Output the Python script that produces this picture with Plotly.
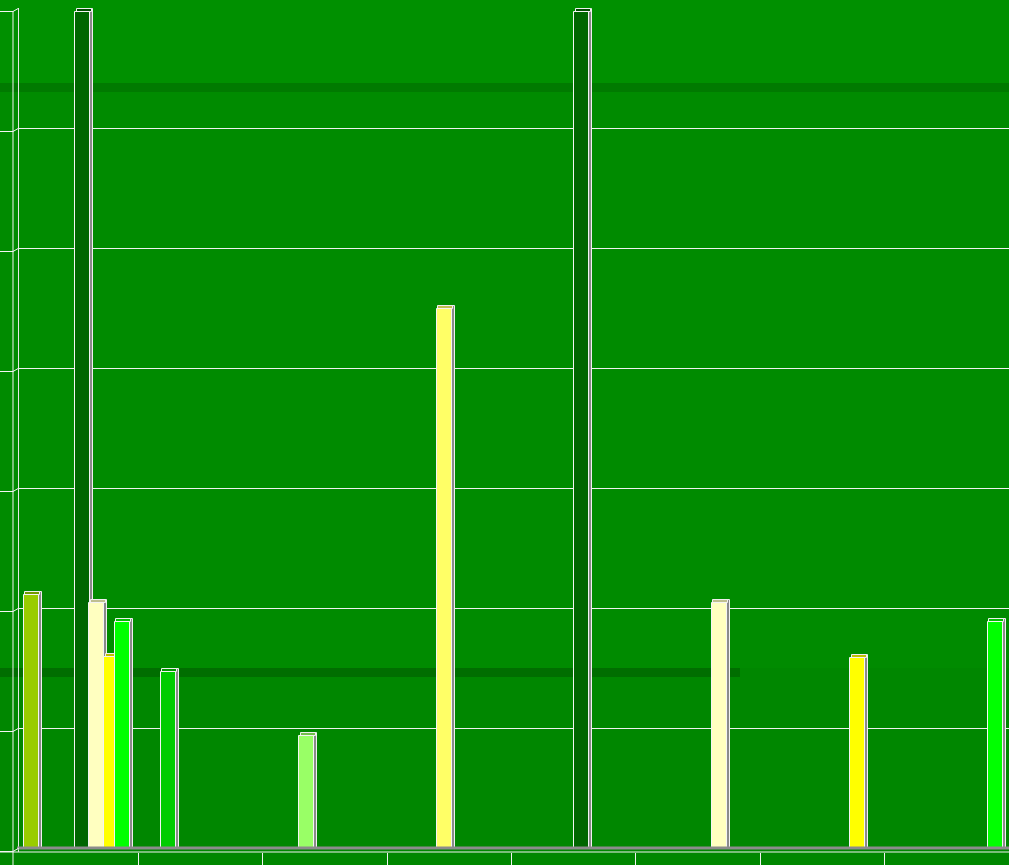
import plotly.graph_objects as go

# ---- data ----
bar_pos = [0.137, 0.551, 0.667, 0.784, 0.872, 1.242, 2.352, 3.461, 4.563, 5.672, 6.782, 7.891]
bar_val = [2.11, 6.97, 2.04, 1.59, 1.88, 1.47, 0.93, 4.49, 6.97, 2.04, 1.58, 1.88]
bar_col = ["#99cc00", "#006600", "#ffffc0", "#ffff00", "#00ff00", "#00cc00",
           "#99ff66", "#ffff66", "#006600", "#ffffc0", "#ffff00", "#00ff00"]
x_ticks = [0, 1, 2, 3, 4, 5, 6, 7, 8]
y_ticks = [0, 1, 2, 3, 4, 5, 6, 7]

W, H = 1009, 865
ML, MR, MT, MB = 19, 0, 8, 13
PW = W - ML - MR
PH = H - MT - MB
ux = 124.375                      # px per x unit (x=0 sits at pixel 14)
XR = [(ML - 14) / ux, (W - 14) / ux]
YR = [-4 / 120, 7]
uy = PH / (YR[1] - YR[0])         # px per y unit

BW = 15 / ux
DX = 3 / ux
DY = 3 / uy
WHITE = "#f4f4f4"


def darken(hexc, f=0.75):
    h = hexc.lstrip("#")
    r, g, b = (int(h[i:i + 2], 16) for i in (0, 2, 4))
    return "rgb(%d,%d,%d)" % (r * f, g * f, b * f)


def px(X):
    return (X - ML) / PW


def py(Y):
    return (H - MB - Y) / PH


fig = go.Figure()
for x, v, c in zip(bar_pos, bar_val, bar_col):
    # side / shadow face
    fig.add_trace(go.Bar(x=[x + DX], y=[v + DY], width=[BW], base=[0],
                         marker=dict(color="#8a8a8a", line=dict(color="#f0f0f0", width=1)),
                         hoverinfo="skip", showlegend=False))
    # top face
    fig.add_trace(go.Bar(x=[x + DX / 2], y=[DY], base=[v], width=[BW],
                         marker=dict(color=darken(c), line=dict(color="#f0f0f0", width=1)),
                         hoverinfo="skip", showlegend=False))
    # front face
    fig.add_trace(go.Bar(x=[x], y=[v], width=[BW],
                         marker=dict(color=c, line=dict(color=WHITE, width=1)),
                         showlegend=False))

shapes = [
    dict(type="rect", xref="paper", yref="paper", x0=px(-20), x1=px(W + 20), y0=py(92), y1=py(83),
         fillcolor="#007a00", line=dict(width=0), layer="below"),
    dict(type="rect", xref="paper", yref="paper", x0=px(-20), x1=px(W + 20), y0=py(668), y1=py(92),
         fillcolor="#008b00", line=dict(width=0), layer="below"),
    dict(type="rect", xref="paper", yref="paper", x0=px(-20), x1=px(W + 20), y0=py(H + 20), y1=py(668),
         fillcolor="#008700", line=dict(width=0), layer="below"),
    dict(type="rect", xref="paper", yref="paper", x0=px(-20), x1=px(740), y0=py(677), y1=py(668),
         fillcolor="#006e00", line=dict(width=0), layer="below"),
    # floor line
    dict(type="line", xref="paper", yref="y", x0=px(17), x1=px(W), y0=0, y1=0,
         line=dict(color="#8c8c8c", width=3), layer="above"),
    # base line under the floor
    dict(type="line", xref="paper", yref="paper", x0=px(0), x1=px(W), y0=py(852), y1=py(852),
         line=dict(color=WHITE, width=1), layer="above"),
    # outer edge of the left wall
    dict(type="line", xref="paper", yref="paper", x0=px(13), x1=px(13), y0=py(H), y1=py(11),
         line=dict(color=WHITE, width=1), layer="above"),
]
# y tick marks on the side wall (slanted join to the back-wall gridline)
off = 3.5 / uy
for t in y_ticks:
    shapes.append(dict(type="path", xref="paper", yref="y",
                       path="M %f,%f L %f,%f L %f,%f" % (px(0), t - off, px(13), t - off, px(19), t),
                       line=dict(color=WHITE, width=1), layer="above"))

fig.update_layout(
    width=W, height=H,
    margin=dict(l=ML, r=MR, t=MT, b=MB, pad=0),
    paper_bgcolor="#009000",
    plot_bgcolor="rgba(0,0,0,0)",
    barmode="overlay",
    bargap=0,
    showlegend=False,
    shapes=shapes,
    xaxis=dict(range=XR, tickvals=x_ticks, showticklabels=False, showgrid=False,
               zeroline=False, showline=False,
               ticks="outside", ticklen=13, tickcolor=WHITE, tickwidth=1, fixedrange=True),
    yaxis=dict(range=YR, tickvals=y_ticks, showticklabels=False, showgrid=True,
               gridcolor="#f0f0f0", gridwidth=1, zeroline=False, showline=True,
               linecolor="#e8e8e8", linewidth=1, ticks="", fixedrange=True),
)

fig.write_html("out.html", config={"displayModeBar": False},
               post_script="document.body.style.margin='0';document.body.style.overflow='hidden';")
